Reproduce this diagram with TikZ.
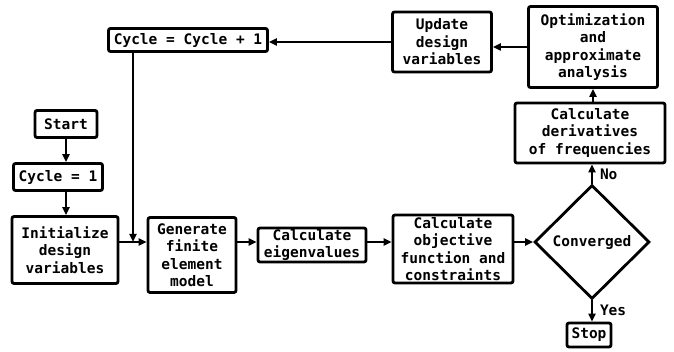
\documentclass[tikz,border=0pt]{standalone}
\usepackage{fontspec}
\setmonofont{DejaVu Sans Mono}
\usetikzlibrary{shapes.geometric,arrows.meta}

\begin{document}
\begin{tikzpicture}[x=1pt,y=-1pt,
  every node/.style={font=\ttfamily\bfseries\fontsize{14.5}{17.5}\selectfont},
  blk/.style={draw, line width=2.8pt, rounded corners=2pt, align=center,
              inner sep=0pt},
  dec/.style={draw, diamond, line width=2.8pt, inner sep=0pt, aspect=1},
  flow/.style={line width=2pt, -{Triangle[length=8pt,width=7pt]}},
  lbl/.style={inner sep=0pt}]
  \useasboundingbox (0,0) rectangle (674,352);

  % process boxes
  \node[blk, minimum width=62pt, minimum height=27pt] (start) at (66,124) {Start};
  \node[blk, minimum width=89pt, minimum height=27pt] (c1) at (58,177) {Cycle = 1};
  \node[blk, minimum width=106pt, minimum height=67pt] (init) at (65,250)
       {Initialize\\design\\variables};
  \node[blk, minimum width=88pt, minimum height=75pt] (gen) at (192,255)
       {Generate\\finite\\element\\model};
  \node[blk, minimum width=108pt, minimum height=34pt] (eig) at (312,245)
       {Calculate\\eigenvalues};
  \node[blk, minimum width=120pt, minimum height=68pt] (obj) at (453,249)
       {Calculate\\objective\\function and\\constraints};
  \node[dec, minimum width=115pt, minimum height=114pt] (conv) at (592,242) {Converged};
  \node[blk, minimum width=44pt, minimum height=24pt] (stop) at (589,335) {Stop};
  \node[blk, minimum width=150pt, minimum height=60pt] (der) at (590,133)
       {Calculate\\derivatives\\of frequencies};
  \node[blk, minimum width=129pt, minimum height=81pt] (opt) at (593,47)
       {Optimization\\and\\approximate\\analysis};
  \node[blk, minimum width=99pt, minimum height=60pt] (upd) at (442,42)
       {Update\\design\\variables};
  \node[blk, minimum width=159pt, minimum height=23pt] (cyc) at (188,40)
       {Cycle = Cycle + 1};

  % reference lines for the connectors
  \coordinate (colA) at (66,0);
  \coordinate (rowY) at (0,242);
  \coordinate (J) at (133,242);

  % connectors
  \draw[flow] (start.south -| colA) -- (c1.north -| colA);
  \draw[flow] (c1.south -| colA) -- (init.north -| colA);
  \draw[flow] (init.east |- rowY) -- (gen.west |- rowY);
  \draw[flow] (cyc.south -| J) -- (J);
  \draw[flow] (gen.east |- rowY) -- (eig.west |- rowY);
  \draw[flow] (eig.east |- rowY) -- (obj.west |- rowY);
  \draw[flow] (obj.east |- rowY) -- (conv.west);
  \draw[flow] (conv.north) -- (der.south -| conv.north)
       node[lbl, pos=0.5, right=7pt] {No};
  \draw[flow] (conv.south) -- (stop.north -| conv.south)
       node[lbl, pos=0.45, right=7pt] {Yes};
  \draw[flow] (der.north -| opt.south) -- (opt.south);
  \draw[flow] (opt.west) -- (opt.west -| upd.east);
  \draw[flow] (upd.west) -- (upd.west -| cyc.east);
\end{tikzpicture}
\end{document}
